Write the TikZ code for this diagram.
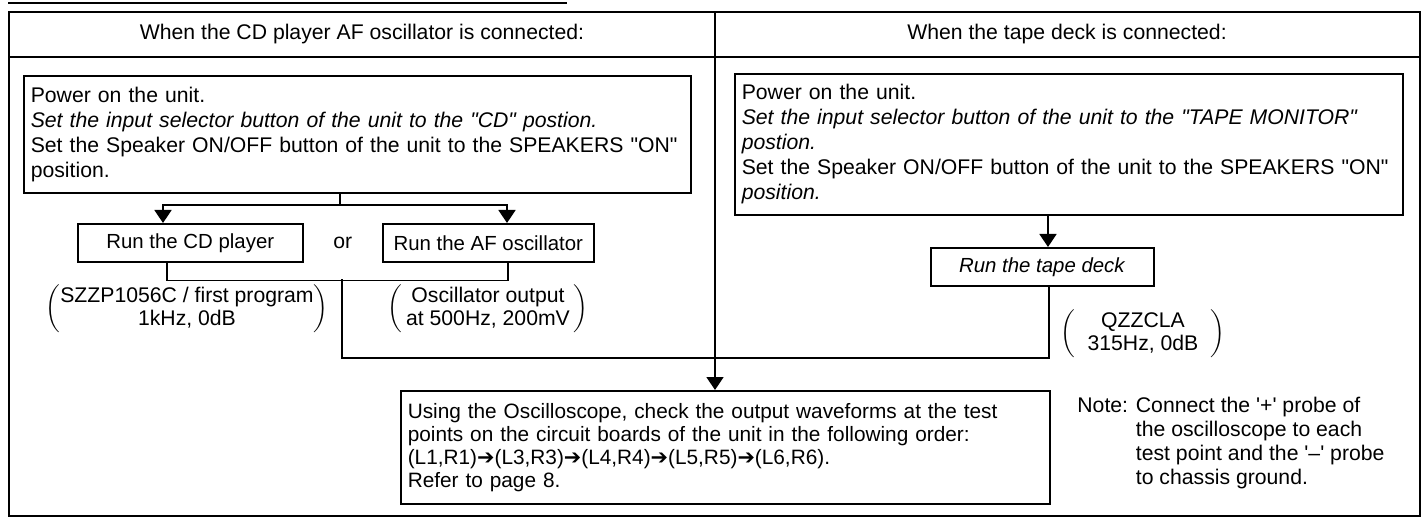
\documentclass[tikz,border=0pt]{standalone}
\usepackage{fontspec}
\setmainfont{Liberation Sans}
\newfontfamily\arrowfont{DejaVu Sans}
\usepackage{tikz}
\usetikzlibrary{
  arrows.meta,
  positioning,
  calc
}
\newcommand{\nextpt}{{\arrowfont ➔}}
\newcommand{\qq}[1]{\textquotedbl#1\textquotedbl}
\tikzset{
  stepbox/.style={draw,line width=0.8pt,anchor=north west,align=left,inner xsep=3.5pt,inner ysep=2pt,text width=#1},
  runbox/.style={draw,line width=0.8pt,anchor=north west,minimum height=19pt,minimum width=#1,inner sep=1pt,font=\fontsize{10.2}{12.5}\selectfont},
  flowline/.style={line width=0.8pt},
  flowarrow/.style={line width=0.8pt,-{Triangle[width=8.5pt,length=6.5pt]}},
  signal/.style={inner sep=0pt},
  headtext/.style={inner sep=0pt}
}

\begin{document}
\begin{tikzpicture}[x=0.5pt,y=-0.5pt,font=\fontsize{10.6}{12.5}\selectfont]
\useasboundingbox (0,0) rectangle (1426,519);
% table frame
\draw[flowline] (8,3) -- (567,3);
\draw[flowline] (9,12) rectangle (1420,516);
\draw[flowline] (9,57) -- (1420,57);
\coordinate (join) at (715,358);
\draw[flowline] (715,12) -- (join);
\node[headtext] (lhead) at (362,34) {When the CD player AF oscillator is connected:};
\node[headtext] (rhead) at (1067,34) {When the tape deck is connected:};
% left: CD player / AF oscillator
\node[stepbox=326.5pt, minimum height=58.5pt] (lpower) at (23,75) {Power on the unit.\\
\textit{Set the input selector button of the unit to the \qq{CD} postion.}\\
Set the Speaker ON/OFF button of the unit to the SPEAKERS \qq{ON}\\
position.};
\node[runbox=112.5pt] (cdrun) at (77,223) {Run the CD player};
\node[runbox=105.5pt] (afrun) at (382,223) {Run the AF oscillator};
\node (or) at ($(cdrun.east)!0.5!(afrun.west)$) {or};
\coordinate (split) at (340,205);
\coordinate (merge) at (342,279);
\draw[flowline] (lpower.south -| split) -- (split);
\draw[flowarrow] (split) -| (cdrun.north -| 163,0);
\draw[flowarrow] (split) -| (afrun.north -| 507,0);
\draw[flowline] (cdrun.south -| 167,0) -- ++(0,18) -| (afrun.south -| 508,0);
\node[signal] (cdsig) at (187,309) {$\left(\renewcommand{\arraystretch}{0.92}\begin{tabular}{@{}c@{}}SZZP1056C / first program\\1kHz, 0dB\end{tabular}\right)$};
\node[signal] (afsig) at (488,309) {$\left(\renewcommand{\arraystretch}{0.92}\begin{tabular}{@{\,}c@{\,}}Oscillator output\\at 500Hz, 200mV\end{tabular}\right)$};
% right: tape deck
\node[stepbox=327pt, minimum height=70.5pt] (rpower) at (734,73) {Power on the unit.\\
\textit{Set the input selector button of the unit to the \qq{TAPE MONITOR}}\\
\textit{postion.}\\
Set the Speaker ON/OFF button of the unit to the SPEAKERS \qq{ON}\\
\textit{position.}};
\node[runbox=111.5pt] (taperun) at (930,247) {\textit{Run the tape deck}};
\draw[flowarrow] (rpower.south -| 1048,0) -- (taperun.north -| 1048,0);
\node[signal] (tapesig) at (1143,334) {$\left(\renewcommand{\arraystretch}{0.92}\begin{tabular}{c}QZZCLA\\315Hz, 0dB\end{tabular}\right)$};
% common check
\node[stepbox=317.5pt, minimum height=56.5pt, font=\fontsize{10.4}{11.5}\selectfont] (scope) at (400,390) {Using the Oscilloscope, check the output waveforms at the test\\
points on the circuit boards of the unit in the following order:\\
(L1,R1)\nextpt(L3,R3)\nextpt(L4,R4)\nextpt(L5,R5)\nextpt(L6,R6).\\
Refer to page 8.};
\draw[flowline] (merge) |- (join) -| (taperun.south -| 1049,0);
\draw[flowarrow] (join) -- (scope.north -| join);
\node[signal, anchor=base west] (note) at (1077,412) {\renewcommand{\arraystretch}{0.96}\begin{tabular}[t]{@{}l@{ }l@{}}Note: & Connect the \textquotesingle+\textquotesingle{} probe of\\
 & the oscilloscope to each\\
 & test point and the \textquotesingle--\textquotesingle{} probe\\
 & to chassis ground.\end{tabular}};
\end{tikzpicture}
\end{document}
